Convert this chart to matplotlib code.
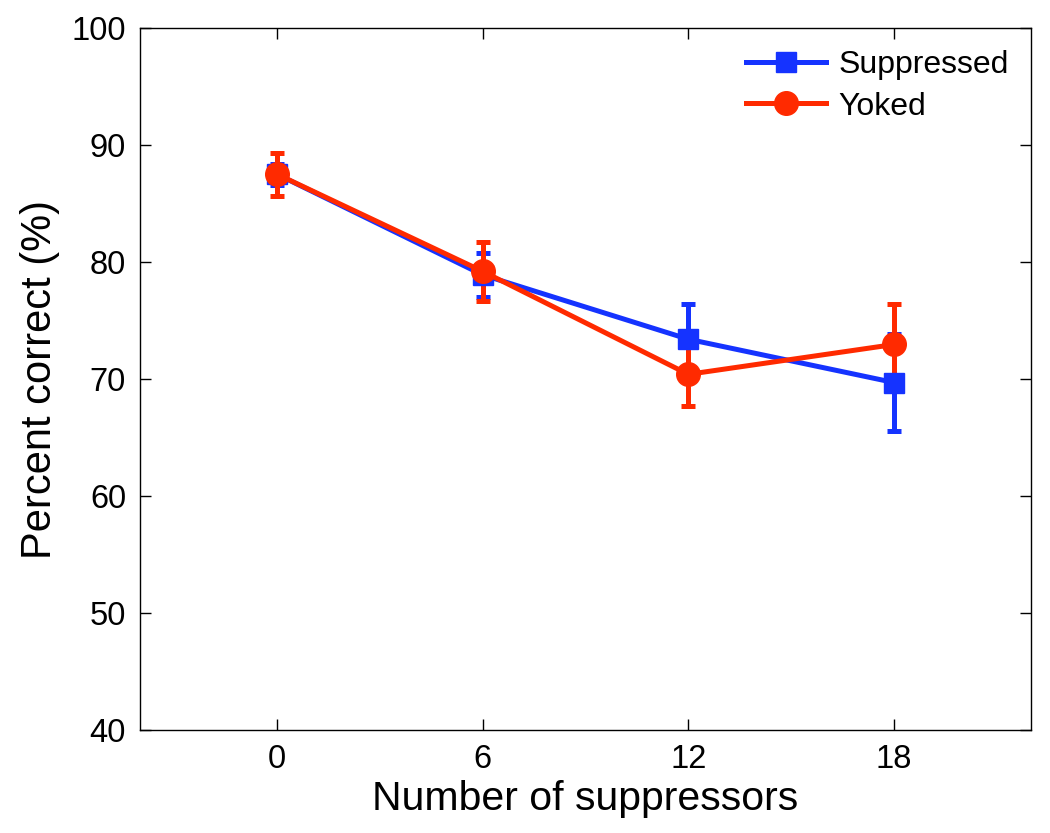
import matplotlib
matplotlib.use("Agg")
import matplotlib.pyplot as plt
from matplotlib.lines import Line2D

x = [0, 6, 12, 18]
suppressed = [87.5, 78.9, 73.4, 69.7]
suppressed_err = [0.9, 1.85, 3.0, 4.15]
yoked = [87.5, 79.2, 70.4, 72.95]
yoked_err = [1.85, 2.5, 2.7, 3.5]

xticks = [0, 6, 12, 18]
yticks = [40, 50, 60, 70, 80, 90, 100]

plt.rcParams['font.family'] = ['Liberation Sans', 'DejaVu Sans']

fig = plt.figure(figsize=(10.5, 8.33), dpi=100)
ax = fig.add_axes([0.1333, 0.1236, 0.8487, 0.8428])

blue = '#1533ff'
red = '#ff2a00'

ax.errorbar(x, suppressed, yerr=suppressed_err, color=blue, lw=3.6, marker='s',
            markersize=14, capsize=5, capthick=3.6, elinewidth=3.6)
ax.errorbar(x, yoked, yerr=yoked_err, color=red, lw=3.6, marker='o',
            markersize=17, capsize=5, capthick=3.6, elinewidth=3.6)

ax.set_xlim(-4, 22)
ax.set_ylim(40, 100)
ax.set_xticks(xticks)
ax.set_yticks(yticks)
ax.tick_params(direction='in', top=True, right=True, labelsize=23.5, length=8, width=1, pad=10)
for s in ax.spines.values():
    s.set_linewidth(1)

ax.set_xlabel('Number of suppressors', fontsize=29.5, labelpad=4)
ax.set_ylabel('Percent correct (%)', fontsize=30, labelpad=8)

handles = [Line2D([], [], color=blue, lw=3.6, marker='s', markersize=14),
           Line2D([], [], color=red, lw=3.6, marker='o', markersize=17)]
labels = ['Suppressed', 'Yoked']
ax.legend(handles, labels, loc='upper right', frameon=False, fontsize=23,
          handlelength=2.5, borderaxespad=0.3, handletextpad=0.4, labelspacing=0.35)

fig.savefig('out.png', dpi=100)
